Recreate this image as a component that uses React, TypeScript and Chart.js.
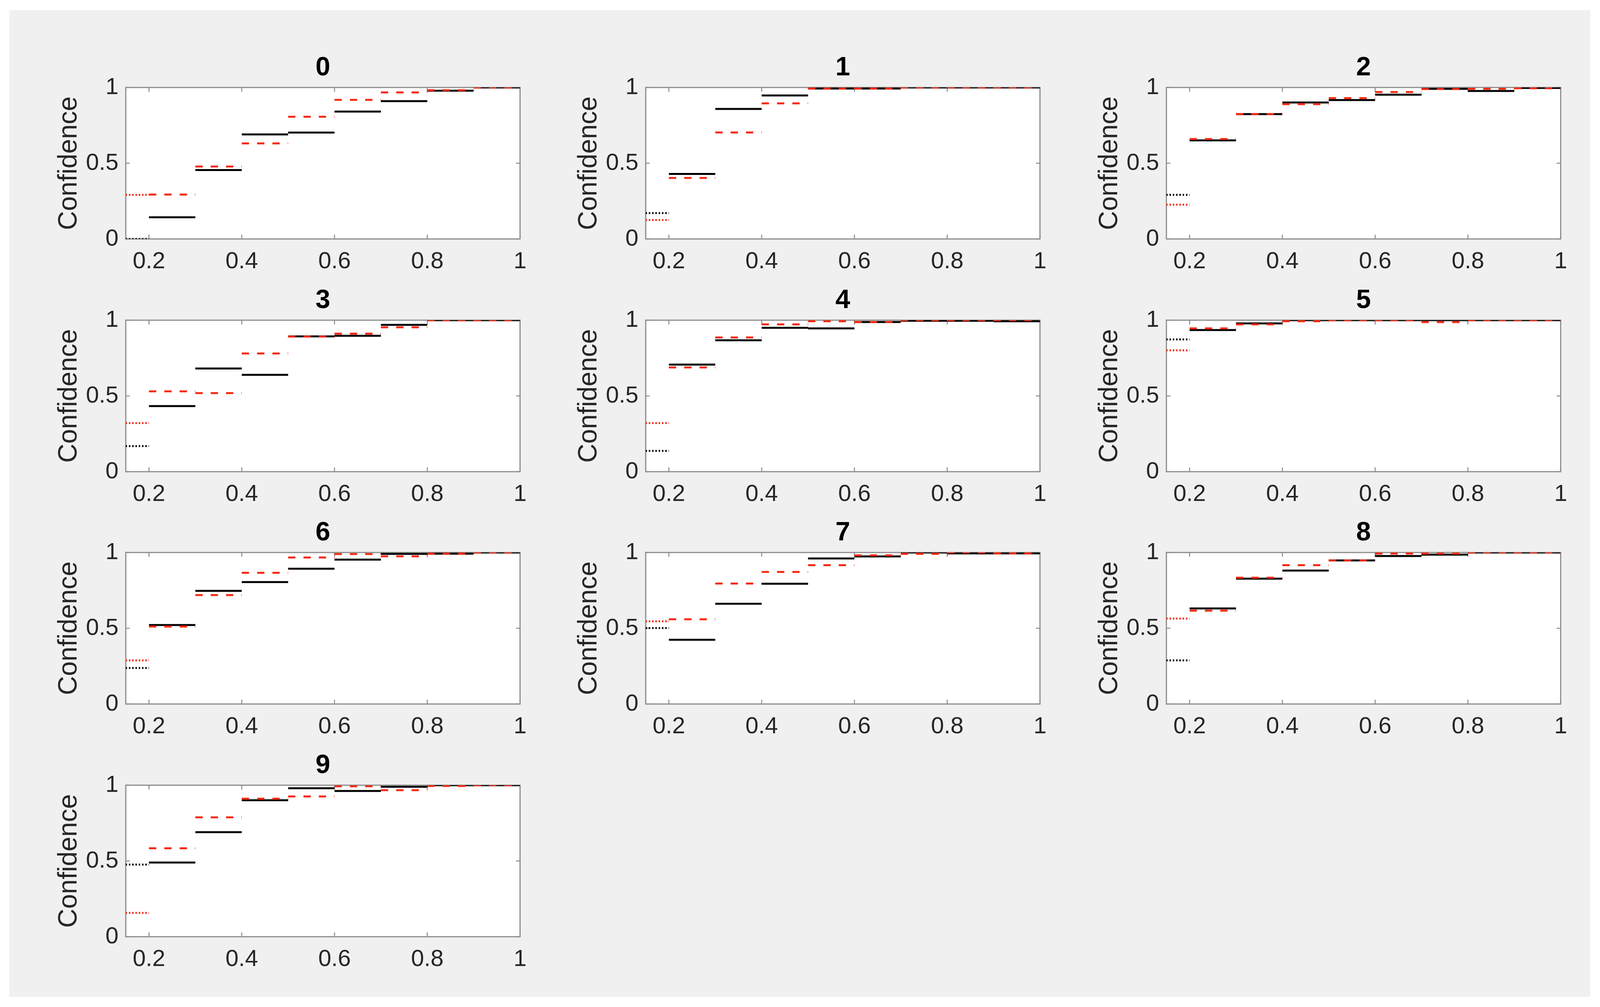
import React, { useEffect, useRef } from "react";
import { Chart, registerables } from "chart.js";

Chart.register(...registerables);

// ---------- data ----------
const digitTitles = ["0", "1", "2", "3", "4", "5", "6", "7", "8", "9"];
// bin edges: first bin (0.1-0.2) is drawn dotted, the rest solid / dashed
const binEdges = [0.1, 0.2, 0.3, 0.4, 0.5, 0.6, 0.7, 0.8, 0.9, 1.0];
const xTickValues = [0.2, 0.4, 0.6, 0.8, 1];
const xTickLabels = ["0.2", "0.4", "0.6", "0.8", "1"];
const yTickValues = [0, 0.5, 1];
const yTickLabels = ["0", "0.5", "1"];
const yAxisLabel = "Confidence";

const digit0Black = [0.0, 0.143, 0.455, 0.69, 0.702, 0.841, 0.91, 0.979, 1.0];
const digit0Red = [0.291, 0.293, 0.478, 0.631, 0.807, 0.918, 0.967, 0.982, 1.0];
const digit1Black = [0.171, 0.429, 0.858, 0.947, 0.993, 0.993, 1.0, 1.0, 1.0];
const digit1Red = [0.125, 0.403, 0.703, 0.895, 0.993, 0.993, 1.0, 1.0, 1.0];
const digit2Black = [0.291, 0.651, 0.824, 0.901, 0.917, 0.952, 0.991, 0.977, 0.997];
const digit2Red = [0.226, 0.66, 0.824, 0.89, 0.93, 0.97, 0.99, 0.991, 0.995];
const digit3Black = [0.169, 0.433, 0.681, 0.639, 0.893, 0.897, 0.969, 1.0, 1.0];
const digit3Red = [0.321, 0.53, 0.519, 0.78, 0.892, 0.911, 0.953, 1.0, 1.0];
const digit4Black = [0.137, 0.707, 0.867, 0.95, 0.946, 0.988, 0.996, 0.996, 0.993];
const digit4Red = [0.321, 0.688, 0.886, 0.972, 0.993, 0.988, 1.0, 1.0, 1.0];
const digit5Black = [0.873, 0.935, 0.979, 1.0, 1.0, 1.0, 1.0, 1.0, 1.0];
const digit5Red = [0.801, 0.946, 0.972, 0.993, 1.0, 1.0, 0.987, 1.0, 1.0];
const digit6Black = [0.238, 0.521, 0.747, 0.805, 0.893, 0.953, 0.991, 0.992, 1.0];
const digit6Red = [0.288, 0.511, 0.719, 0.866, 0.967, 0.99, 0.975, 0.992, 1.0];
const digit7Black = [0.501, 0.424, 0.662, 0.794, 0.961, 0.974, 1.0, 0.994, 0.994];
const digit7Red = [0.546, 0.559, 0.795, 0.872, 0.916, 0.981, 0.991, 1.0, 0.994];
const digit8Black = [0.288, 0.631, 0.827, 0.881, 0.948, 0.977, 0.986, 1.0, 1.0];
const digit8Red = [0.564, 0.616, 0.834, 0.916, 0.948, 0.993, 0.993, 1.0, 1.0];
const digit9Black = [0.476, 0.49, 0.69, 0.901, 0.98, 0.962, 0.99, 1.0, 1.0];
const digit9Red = [0.157, 0.584, 0.788, 0.911, 0.926, 0.993, 0.967, 0.995, 1.0];

const blackSeries = [digit0Black, digit1Black, digit2Black, digit3Black, digit4Black, digit5Black, digit6Black, digit7Black, digit8Black, digit9Black];
const redSeries = [digit0Red, digit1Red, digit2Red, digit3Red, digit4Red, digit5Red, digit6Red, digit7Red, digit8Red, digit9Red];

// ---------- layout / style (in 4382 x 2579 reference pixels) ----------
const REF_W = 4382;
const REF_H = 2579;
const COL_LEFT = [345, 1768, 3194];
const ROW_TOP = [224, 820, 1415, 2011];
const PLOT_W = 1082;
const PLOT_H = 388;
const PAD_L = 230;
const PAD_T = 103;
const PAD_R = 40;
const PAD_B = 110;

const FONT = "'Liberation Sans', Arial, Helvetica, sans-serif";
const RED = "rgb(246,40,18)";
const BLACK = "#000000";
const AXIS_GRAY = "#8c8c8c";
const TEXT = "#262626";

function viewport() {
  const w = (typeof window !== "undefined" && (document.documentElement.clientWidth || window.innerWidth)) || REF_W;
  const h = (typeof window !== "undefined" && (window.innerHeight || document.documentElement.clientHeight)) || REF_H;
  return { sx: w / REF_W, sy: h / REF_H, w, h };
}

function segments(values: number[], from: number, to: number) {
  const pts: { x: number; y: number | null }[] = [];
  for (let i = from; i <= to; i++) {
    pts.push({ x: binEdges[i], y: values[i] });
    pts.push({ x: binEdges[i + 1], y: values[i] });
    if (i < to) pts.push({ x: binEdges[i + 1], y: null });
  }
  return pts;
}

function makeFramePlugin(sx: number, sy: number) {
  return {
    id: "matlabFrame",
    beforeDraw(chart: any) {
      const { ctx, chartArea: a } = chart;
      ctx.save();
      ctx.fillStyle = "#ffffff";
      ctx.fillRect(a.left, a.top, a.right - a.left, a.bottom - a.top);
      ctx.restore();
    },
    beforeDatasetsDraw(chart: any) {
      const { ctx, chartArea: a, scales } = chart;
      ctx.save();
      ctx.strokeStyle = AXIS_GRAY;
      ctx.lineWidth = 3 * sy;
      ctx.strokeRect(a.left, a.top, a.right - a.left, a.bottom - a.top);
      ctx.lineWidth = 2.5 * sy;
      const tlx = 11 * sx;
      const tly = 11 * sy;
      ctx.beginPath();
      xTickValues.forEach((v) => {
        const px = scales.x.getPixelForValue(v);
        ctx.moveTo(px, a.bottom);
        ctx.lineTo(px, a.bottom - tly);
        ctx.moveTo(px, a.top);
        ctx.lineTo(px, a.top + tly);
      });
      yTickValues.forEach((v) => {
        const py = scales.y.getPixelForValue(v);
        ctx.moveTo(a.left, py);
        ctx.lineTo(a.left + tlx, py);
        ctx.moveTo(a.right, py);
        ctx.lineTo(a.right - tlx, py);
      });
      ctx.stroke();
      ctx.restore();
    },
  };
}

function Panel({ index, sx, sy }: { index: number; sx: number; sy: number }) {
  const ref = useRef<HTMLCanvasElement | null>(null);
  const row = Math.floor(index / 3);
  const col = index % 3;
  const padL = Math.round(PAD_L * sx);
  const padR = Math.round(PAD_R * sx);
  const padT = Math.round(PAD_T * sy);
  const padB = Math.round(PAD_B * sy);
  const plotW = Math.round(PLOT_W * sx);
  const plotH = Math.round(PLOT_H * sy);
  const width = plotW + padL + padR;
  const height = plotH + padT + padB;
  const fs = Math.min(sx, sy) * 0.5 + sy * 0.5;

  useEffect(() => {
    if (!ref.current) return;
    const black = blackSeries[index];
    const red = redSeries[index];
    const common = {
      pointRadius: 0,
      pointHoverRadius: 0,
      borderWidth: 5 * sy,
      borderCapStyle: "butt" as const,
      tension: 0,
      fill: false,
      spanGaps: false,
    };
    const chart = new Chart(ref.current, {
      type: "line",
      data: {
        datasets: [
          { ...common, label: "red", data: segments(red, 1, 8), borderColor: RED, borderDash: [20 * sx, 22 * sx] },
          { ...common, label: "red first", data: segments(red, 0, 0), borderColor: RED, borderDash: [4 * sx, 5 * sx] },
          { ...common, label: "black", data: segments(black, 1, 8), borderColor: BLACK },
          { ...common, label: "black first", data: segments(black, 0, 0), borderColor: BLACK, borderDash: [4 * sx, 5 * sx] },
        ] as any,
      },
      options: {
        animation: false,
        responsive: false,
        events: [],
        layout: { padding: { top: 0, left: 0, right: padR, bottom: 0 } },
        plugins: {
          legend: { display: false },
          tooltip: { enabled: false },
          title: {
            display: true,
            text: digitTitles[index],
            fullSize: false,
            color: "#000000",
            font: { family: FONT, size: 70 * fs, weight: "bold", lineHeight: 1.2 },
            padding: { top: padT - 84 * fs - 9 * sy, bottom: 9 * sy },
          },
        },
        scales: {
          x: {
            type: "linear",
            min: 0.15,
            max: 1,
            afterBuildTicks: (scale: any) => {
              scale.ticks = xTickValues.map((value) => ({ value }));
            },
            afterFit: (scale: any) => {
              scale.height = padB;
            },
            ticks: {
              autoSkip: false,
              maxRotation: 0,
              minRotation: 0,
              padding: 22 * sy,
              color: TEXT,
              font: { family: FONT, size: 62 * fs },
              callback: (_v: any, i: number) => xTickLabels[i],
            },
            grid: { display: true, drawOnChartArea: false, drawTicks: false },
            border: { display: false },
          },
          y: {
            type: "linear",
            min: 0,
            max: 1,
            afterBuildTicks: (scale: any) => {
              scale.ticks = yTickValues.map((value) => ({ value }));
            },
            afterFit: (scale: any) => {
              scale.width = padL;
            },
            ticks: {
              autoSkip: false,
              padding: 20 * sx,
              color: TEXT,
              font: { family: FONT, size: 62 * fs },
              callback: (_v: any, i: number) => yTickLabels[i],
            },
            title: {
              display: true,
              text: yAxisLabel,
              color: TEXT,
              font: { family: FONT, size: 70 * fs, lineHeight: 1.2 },
              padding: { top: 75 * sx - 42 * fs, bottom: 0 },
            },
            grid: { display: true, drawOnChartArea: false, drawTicks: false },
            border: { display: false },
          },
        },
      } as any,
      plugins: [makeFramePlugin(sx, sy)],
    });
    return () => chart.destroy();
  }, [index, sx, sy]);

  return (
    <canvas
      ref={ref}
      width={width}
      height={height}
      style={{
        position: "absolute",
        left: Math.round(COL_LEFT[col] * sx) - padL,
        top: Math.round(ROW_TOP[row] * sy) - padT,
        width,
        height,
      }}
    />
  );
}

export default function App() {
  const { sx, sy, w, h } = viewport();
  return (
    <div
      style={{
        position: "fixed",
        left: 0,
        top: 0,
        width: w,
        height: h,
        background: "#ffffff",
        overflow: "hidden",
      }}
    >
      <div
        style={{
          position: "absolute",
          left: Math.round(26 * sx),
          top: Math.round(26 * sy),
          width: Math.round(4330 * sx),
          height: Math.round(2527 * sy),
          background: "#f0f0f0",
        }}
      />
      {digitTitles.map((t, i) => (
        <Panel key={t} index={i} sx={sx} sy={sy} />
      ))}
    </div>
  );
}
